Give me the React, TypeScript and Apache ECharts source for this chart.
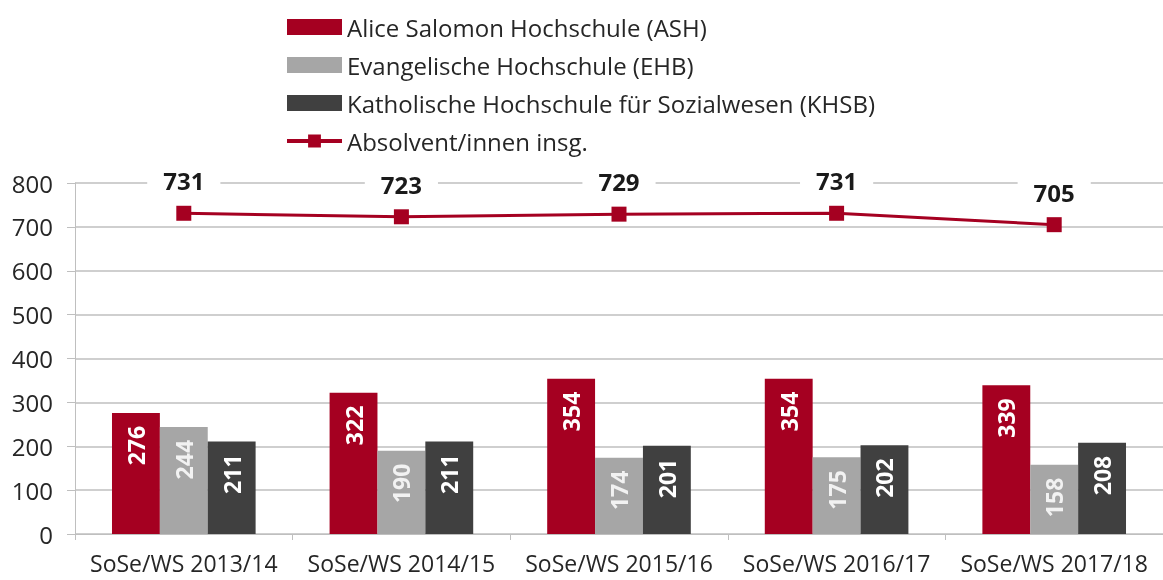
import React, { useEffect, useRef } from "react";
import * as echarts from "echarts";

const categories = ["SoSe/WS 2013/14", "SoSe/WS 2014/15", "SoSe/WS 2015/16", "SoSe/WS 2016/17", "SoSe/WS 2017/18"];
const ash = [276, 322, 354, 354, 339];
const ehb = [244, 190, 174, 175, 158];
const khsb = [211, 211, 201, 202, 208];
const total = [731, 723, 729, 731, 705];
const yTicks = { min: 0, max: 800, interval: 100 };

const FONT = "'Open Sans', 'Noto Sans', sans-serif";

export default function App() {
  const ref = useRef<HTMLDivElement>(null);
  useEffect(() => {
    if (!ref.current) return;
    const chart = echarts.init(ref.current, undefined, { renderer: "svg" });
    const barLabel = (color: string) => ({
      show: true,
      position: "insideTop",
      rotate: 90,
      align: "right",
      verticalAlign: "middle",
      distance: 13,
      color,
      fontWeight: "bold",
      fontSize: 23,
      fontFamily: FONT,
      formatter: "{c}",
    });
    chart.setOption({
      animation: false,
      textStyle: { fontFamily: FONT },
      legend: {
        orient: "vertical",
        left: 285,
        top: 15,
        padding: 0,
        itemWidth: 55,
        itemHeight: 16,
        itemGap: 14,
        textStyle: { fontSize: 24, color: "#262626", fontFamily: FONT },
        data: [
          { name: "Alice Salomon Hochschule (ASH)", icon: "rect" },
          { name: "Evangelische Hochschule (EHB)", icon: "rect" },
          { name: "Katholische Hochschule für Sozialwesen (KHSB)", icon: "rect" },
          { name: "Absolvent/innen insg.", lineStyle: { width: 4 } },
        ],
      },
      grid: { left: 75, right: 0, top: 183, bottom: 46, containLabel: false },
      xAxis: {
        type: "category",
        data: categories,
        axisLine: { show: true, lineStyle: { color: "#BFBFBF", width: 1 } },
        axisTick: { show: true, length: 6, lineStyle: { color: "#BFBFBF" } },
        axisLabel: { fontSize: 23, color: "#262626", margin: 17, fontFamily: FONT, interval: 0, hideOverlap: false },
      },
      yAxis: {
        type: "value",
        min: yTicks.min,
        max: yTicks.max,
        interval: yTicks.interval,
        axisLine: { show: true, lineStyle: { color: "#BFBFBF", width: 1 } },
        axisTick: { show: true, length: 8, lineStyle: { color: "#BFBFBF" } },
        axisLabel: { fontSize: 24, color: "#262626", margin: 22, fontFamily: FONT },
        splitLine: { show: true, lineStyle: { color: "#BFBFBF", width: 1.5 } },
      },
      series: [
        {
          name: "Alice Salomon Hochschule (ASH)",
          type: "bar",
          data: ash,
          itemStyle: { color: "#A50021" },
          barGap: "0%",
          barCategoryGap: "34%",
          label: barLabel("#FFFFFF"),
        },
        {
          name: "Evangelische Hochschule (EHB)",
          type: "bar",
          data: ehb,
          itemStyle: { color: "#A6A6A6" },
          label: barLabel("#F2F2F2"),
        },
        {
          name: "Katholische Hochschule für Sozialwesen (KHSB)",
          type: "bar",
          data: khsb,
          itemStyle: { color: "#404040" },
          label: barLabel("#FFFFFF"),
        },
        {
          name: "Absolvent/innen insg.",
          type: "line",
          data: total,
          symbol: "rect",
          symbolSize: 15,
          itemStyle: { color: "#A50021" },
          lineStyle: { color: "#A50021", width: 3 },
          z: 5,
          label: {
            show: true,
            position: "top",
            distance: 11,
            fontSize: 24,
            fontWeight: "bold",
            color: "#1a1a1a",
            fontFamily: FONT,
            backgroundColor: "#FFFFFF",
            padding: [2, 16, 2, 16],
          },
        },
      ],
    });
    return () => chart.dispose();
  }, []);
  return <div ref={ref} style={{ position: "fixed", left: 0, top: 0, width: 1163, height: 580 }} />;
}
